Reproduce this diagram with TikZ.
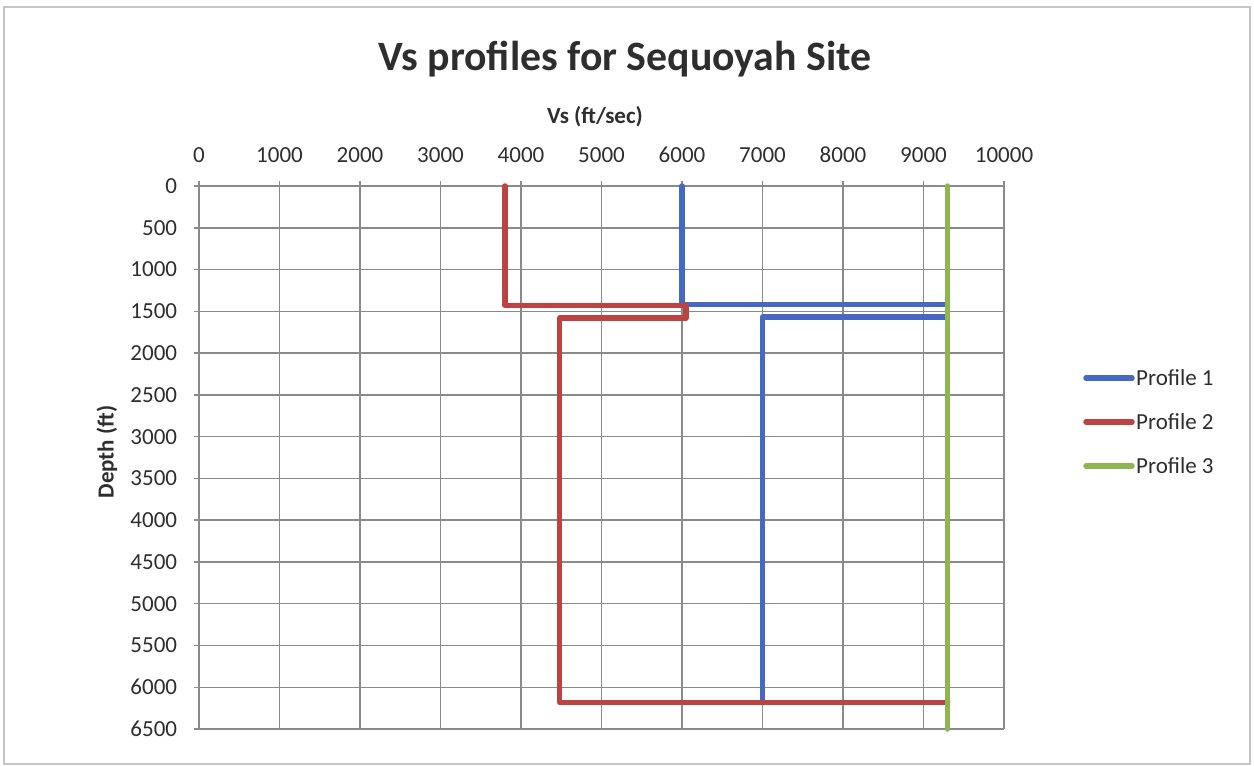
\documentclass[tikz,border=0pt]{standalone}
\usepackage{fontspec}
\setmainfont{Carlito}
\usetikzlibrary{positioning}
\tikzset{
	profile/.style = {#1, line width=5.5pt, line cap=round, line join=round},
	gridline/.style = {xgray, line width=1.5pt},
	ticklabel/.style = {text=xtext, inner sep=0pt, font=\fontsize{23}{23}\selectfont},
	axistitle/.style = {text=xtext, inner sep=0pt, font=\bfseries\fontsize{23}{23}\selectfont},
}
\definecolor{xblue}{HTML}{4668C2}
\definecolor{xred}{HTML}{BB4342}
\definecolor{xgreen}{HTML}{8FB553}
\definecolor{xgray}{HTML}{8A8A8A}
\definecolor{xtext}{HTML}{2E2E2E}

\begin{document}
\begin{tikzpicture}[x=1pt, y=-1pt]
	\useasboundingbox (0,0) rectangle (1254,766);
	\draw[xgray!50, line width=1.5pt] (4,7) rectangle (1250,764);
	\node[anchor=base, text=xtext, inner sep=0pt, font=\bfseries\fontsize{41.8}{41.8}\selectfont] (title) at (625,70) {Vs profiles for Sequoyah Site};
	\node[axistitle, anchor=base] (xtitle) at (595,123) {Vs (ft/sec)};
	\node[axistitle, rotate=90] (ytitle) at (107,452) {Depth (ft)};
	% plot area: Vs in ft/sec across, depth in ft downwards
	\begin{scope}[shift={(199,186)}, x=0.0805pt, y=-0.08354pt]
		\foreach \vs in {0,1000,...,10000} {
			\draw[gridline] (\vs,-60) -- (\vs,6500);
			\node[ticklabel, anchor=base] at (\vs,-287) {\vs};
		}
		\foreach \d in {0,500,...,6500} {
			\draw[gridline] (-62,\d) -- (10000,\d);
			\node[ticklabel, anchor=east] at (-270,\d) {\d};
		}
		\draw[profile={xblue}] (6000,0) -- (6000,1420) -- (9300,1420) -- (9300,1570)
			-- (7000,1570) -- (7000,6180) -- (9300,6180);
		\draw[profile={xred}] (3800,0) -- (3800,1430) -- (6050,1430) -- (6050,1580)
			-- (4480,1580) -- (4480,6180) -- (9270,6180);
		\draw[profile={xgreen}] (9300,0) -- (9300,6500);
	\end{scope}
	% legend
	\node[ticklabel, anchor=west] (leg1) at (1136,378) {Profile 1};
	\node[ticklabel, anchor=west] (leg2) at (1136,422) {Profile 2};
	\node[ticklabel, anchor=west] (leg3) at (1136,466) {Profile 3};
	\draw[profile={xblue}]  ([xshift=-4pt]leg1.west) -- ++(-46,0);
	\draw[profile={xred}]   ([xshift=-4pt]leg2.west) -- ++(-46,0);
	\draw[profile={xgreen}] ([xshift=-4pt]leg3.west) -- ++(-46,0);
\end{tikzpicture}
\end{document}
